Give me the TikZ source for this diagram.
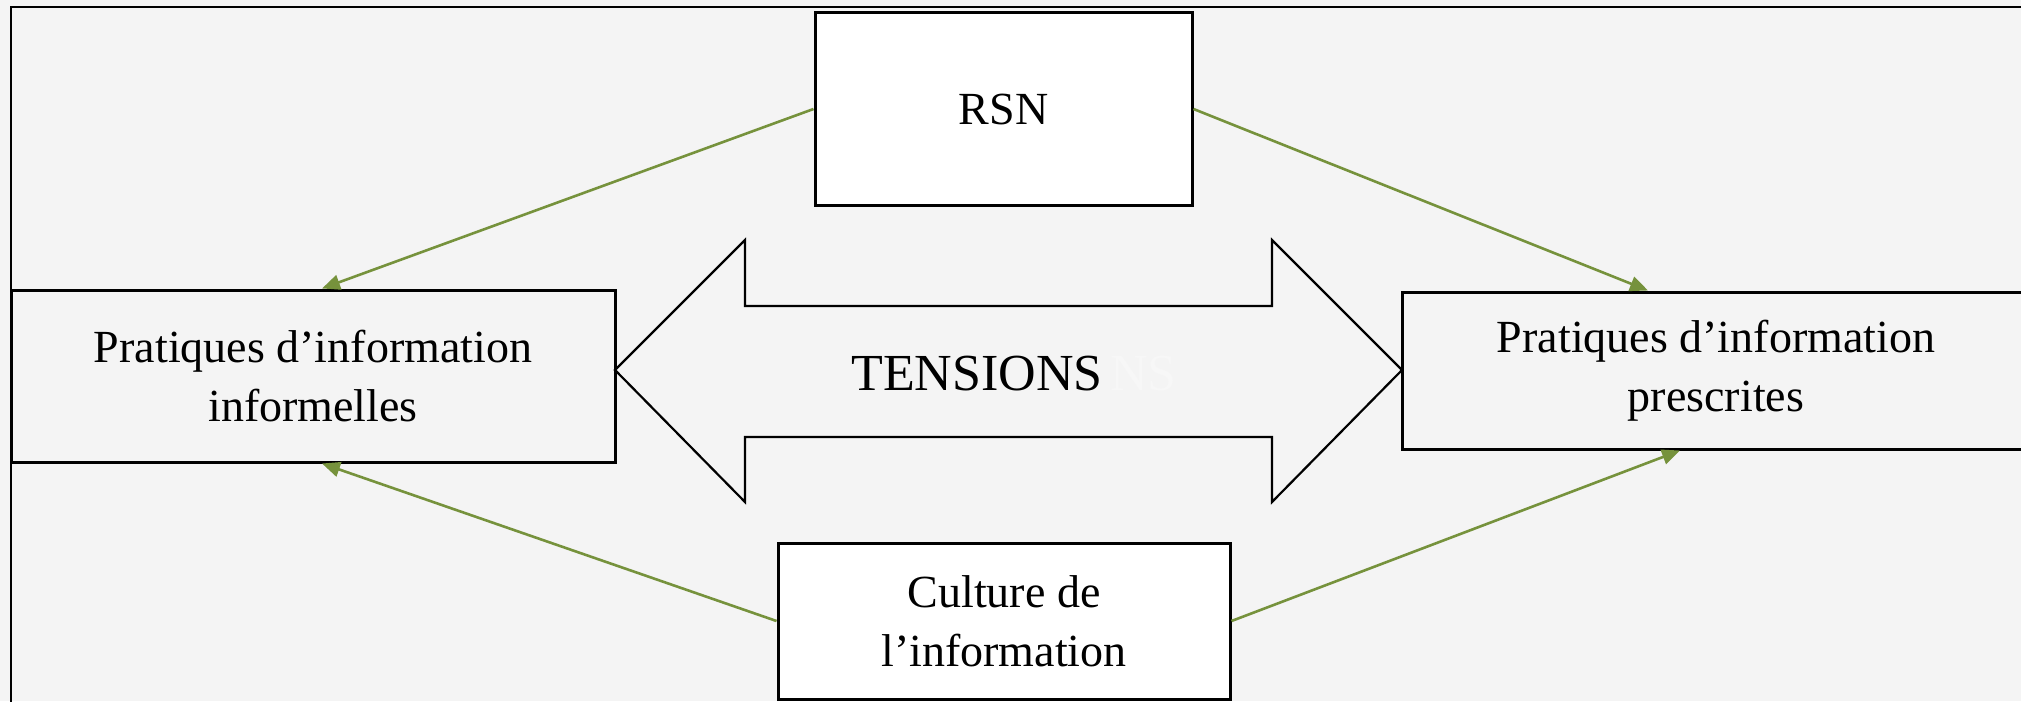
\documentclass[tikz,border=0pt]{standalone}
\usepackage{fontspec}
\setmainfont{Liberation Serif}
\usetikzlibrary{arrows.meta}
\definecolor{bgpaper}{HTML}{F4F4F4}
\definecolor{olivearrow}{HTML}{76923C}
\tikzset{
  box/.style={draw=black, line width=1.5pt, inner sep=0pt, align=center,
    font=\fontsize{23pt}{29.5pt}\selectfont},
  whitebox/.style={box, fill=white},
  link/.style={draw=olivearrow, line width=1.3pt,
    -{Triangle[length=9pt,width=7.5pt]}},
  bigarrow/.style={draw=black, line width=1.1pt, line join=miter},
}
\begin{document}
\begin{tikzpicture}[x=0.5pt,y=-0.5pt]
\useasboundingbox (0,0) rectangle (2021,701);
\clip (0,0) rectangle (2021,701);
\fill[bgpaper] (0,0) rectangle (2021,701);
\draw[line width=1pt] (11,760) -- (11,7) -- (2080,7);

% double arrow
\draw[bigarrow] (615,370) -- (745,240) -- (745,306) -- (1272,306) -- (1272,240)
  -- (1402,370) -- (1272,502) -- (1272,437) -- (745,437) -- (745,502) -- cycle;
\node[font=\fontsize{26pt}{30pt}\selectfont, inner sep=0pt] (tens) at (977,374) {TENSIONS};
\node[font=\fontsize{26pt}{30pt}\selectfont, inner sep=0pt, text=white!97!black, anchor=west] (ghost) at (1110,374) {NS};

% boxes
\node[whitebox, minimum width=188.5pt, minimum height=96pt] (rsn) at (1003.5,109) {RSN};
\node[box, minimum width=302pt, minimum height=86pt] (inf) at (313,376) {Pratiques d’information\\informelles};
\node[box, minimum width=314pt, minimum height=78.5pt] (pres) at (1716,370.5) {Pratiques d’information\\prescrites};
\node[whitebox, minimum width=226pt, minimum height=78pt] (cult) at (1004,621) {Culture de\\l’information};

% links
\draw[link] (rsn.west) -- ([xshift=4.5pt]inf.north);
\draw[link] (rsn.east) -- ([xshift=-34pt]pres.north);
\draw[link] (cult.west) -- ([xshift=4.5pt]inf.south);
\draw[link] (cult.east) -- ([xshift=-18pt]pres.south);
\end{tikzpicture}
\end{document}
